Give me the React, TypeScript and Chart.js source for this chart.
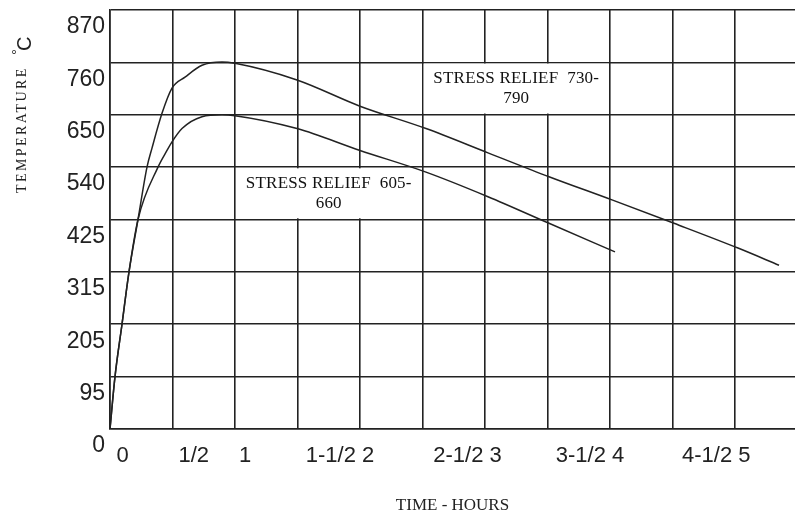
import React, { useEffect, useRef } from 'react';
import { Chart, registerables } from 'chart.js';

Chart.register(...registerables);

// Y tick labels (°C) — evenly spaced on the original grid
const yTickLabels = [0, 95, 205, 315, 425, 540, 650, 760, 870];

// X tick labels (hours) and where they sit on the time axis
const xTickLabels = ['0', '1/2', '1', '1-1/2 2', '2-1/2 3', '3-1/2 4', '4-1/2 5'];
const xTickHours = [0.1, 0.67, 1.08, 1.84, 2.86, 3.84, 4.85];

// Stress relief 730-790 curve
const highHours = [0, 0.04, 0.096, 0.152, 0.224, 0.296, 0.336, 0.416, 0.496, 0.6, 0.736, 0.896, 1.0, 1.496, 2.0, 2.528, 3.024, 3.512, 4.016, 4.512, 5.024, 5.352];
const highTemps = [0, 95, 205, 315, 425, 540, 580, 653, 706, 729, 754, 761, 758, 723, 668, 621, 570, 519, 468, 417, 365, 329];

// Stress relief 605-660 curve
const lowHours = [0, 0.04, 0.096, 0.152, 0.224, 0.384, 0.456, 0.496, 0.576, 0.736, 0.896, 1.0, 1.496, 2.0, 2.528, 3.024, 3.512, 4.04];
const lowTemps = [0, 95, 205, 315, 425, 540, 575, 593, 621, 646, 650, 648, 621, 575, 529, 475, 417, 357];

// Annotation labels
const highNote = ['STRESS RELIEF  730-', '790'];
const highNoteHours = [2.5, 4.0];
const highNoteTemps = [650, 760];
const lowNote = ['STRESS RELIEF  605-', '660'];
const lowNoteHours = [1.0, 2.5];
const lowNoteTemps = [425, 540];

const xMaxHours = 5.48;

function tempToGrid(t: number): number {
  for (let i = 0; i < yTickLabels.length - 1; i++) {
    const a = yTickLabels[i];
    const b = yTickLabels[i + 1];
    if (t <= b || i === yTickLabels.length - 2) {
      return i + (t - a) / (b - a);
    }
  }
  return 0;
}

const INK = '#222';

const notesPlugin = {
  id: 'notes',
  beforeDatasetsDraw(chart: any) {
    const { ctx } = chart;
    const xs = chart.scales.x;
    const ys = chart.scales.y;
    const notes = [
      { lines: highNote, hours: highNoteHours, temps: highNoteTemps },
      { lines: lowNote, hours: lowNoteHours, temps: lowNoteTemps },
    ];
    ctx.save();
    for (const n of notes) {
      const x1 = xs.getPixelForValue(n.hours[0]);
      const x2 = xs.getPixelForValue(n.hours[1]);
      const y1 = ys.getPixelForValue(tempToGrid(n.temps[1]));
      const y2 = ys.getPixelForValue(tempToGrid(n.temps[0]));
      ctx.fillStyle = '#fff';
      ctx.fillRect(x1 + 1.2, y1 + 1.2, x2 - x1 - 2.4, y2 - y1 - 2.4);
      const cx = (x1 + x2) / 2;
      const cy = (y1 + y2) / 2;
      ctx.fillStyle = '#111';
      ctx.font = '17px "Liberation Serif", "DejaVu Serif", serif';
      (ctx as any).letterSpacing = '0.2px';
      ctx.textAlign = 'center';
      ctx.textBaseline = 'middle';
      ctx.fillText(n.lines[0], cx, cy - 10);
      ctx.fillText(n.lines[1], cx, cy + 10);
    }
    ctx.restore();
  },
};

const yTitlePlugin = {
  id: 'ytitle',
  afterDraw(chart: any) {
    const { ctx } = chart;
    ctx.save();
    ctx.fillStyle = INK;
    ctx.textAlign = 'left';
    ctx.textBaseline = 'alphabetic';
    // TEMPERATURE
    ctx.save();
    ctx.translate(26, 193);
    ctx.rotate(-Math.PI / 2);
    ctx.font = '14px "Liberation Serif", "DejaVu Serif", serif';
    (ctx as any).letterSpacing = '2.4px';
    ctx.fillText('TEMPERATURE', 0, 0);
    ctx.restore();
    // degree sign
    ctx.save();
    ctx.translate(22, 55);
    ctx.rotate(-Math.PI / 2);
    ctx.font = '15px "Liberation Sans", Arial, sans-serif';
    ctx.fillText('°', 0, 0);
    ctx.restore();
    // C
    ctx.save();
    ctx.translate(31, 51);
    ctx.rotate(-Math.PI / 2);
    ctx.font = '20px "Liberation Sans", Arial, sans-serif';
    ctx.fillText('C', 0, 0);
    ctx.restore();
    ctx.restore();
  },
};

export default function App() {
  const ref = useRef<HTMLCanvasElement | null>(null);

  useEffect(() => {
    if (!ref.current) return;
    const highData = highHours.map((h, i) => ({ x: h, y: tempToGrid(highTemps[i]) }));
    const lowData = lowHours.map((h, i) => ({ x: h, y: tempToGrid(lowTemps[i]) }));

    const chart = new Chart(ref.current, {
      type: 'line',
      data: {
        datasets: [
          {
            label: 'Stress relief 730-790',
            data: highData,
            borderColor: INK,
            borderWidth: 1.5,
            pointRadius: 0,
            fill: false,
            cubicInterpolationMode: 'monotone',
          },
          {
            label: 'Stress relief 605-660',
            data: lowData,
            borderColor: INK,
            borderWidth: 1.5,
            pointRadius: 0,
            fill: false,
            cubicInterpolationMode: 'monotone',
          },
        ],
      },
      options: {
        animation: false,
        responsive: false,
        maintainAspectRatio: false,
        layout: { padding: { top: 10, left: 0, right: 0, bottom: 0 } },
        plugins: {
          legend: { display: false },
          tooltip: { enabled: false },
        },
        scales: {
          x: {
            type: 'linear',
            position: 'bottom',
            min: 0,
            max: xMaxHours,
            afterBuildTicks: (scale: any) => {
              scale.ticks = scale.ticks.filter((t: any) => Math.abs(t.value * 2 - Math.round(t.value * 2)) < 1e-6);
            },
            ticks: { display: false, stepSize: 0.5 },
            grid: { color: INK, lineWidth: 1.6, drawTicks: false },
            border: { color: INK, width: 1.6 },
            afterFit: (scale: any) => {
              scale.height = 0;
              scale.paddingLeft = 0;
              scale.paddingRight = 0;
            },
          },
          xl: {
            type: 'linear',
            position: 'bottom',
            min: 0,
            max: xMaxHours,
            afterBuildTicks: (scale: any) => {
              scale.ticks = xTickHours.map((v) => ({ value: v }));
            },
            ticks: {
              autoSkip: false,
              maxRotation: 0,
              minRotation: 0,
              padding: 6,
              color: INK,
              font: { family: '"Liberation Sans", Arial, sans-serif', size: 22 },
              callback: (_v: any, i: number) => xTickLabels[i],
            },
            grid: { display: false },
            border: { display: false },
            title: {
              display: true,
              text: 'TIME - HOURS',
              color: INK,
              font: { family: '"Liberation Serif", "DejaVu Serif", serif', size: 17 },
              padding: { top: 0, bottom: 1 },
            },
            afterFit: (scale: any) => {
              scale.height = 88;
              scale.paddingLeft = 0;
              scale.paddingRight = 0;
            },
          },
          y: {
            type: 'linear',
            min: 0,
            max: 8,
            ticks: {
              stepSize: 1,
              padding: 5,
              labelOffset: 17,
              color: INK,
              font: { family: '"Liberation Sans", Arial, sans-serif', size: 23 },
              callback: (v: any) => String(yTickLabels[Math.round(Number(v))]),
            },
            grid: { color: INK, lineWidth: 1.6, drawTicks: false },
            border: { color: INK, width: 1.6 },
            afterFit: (scale: any) => {
              scale.width = 110;
              scale.paddingTop = 0;
              scale.paddingBottom = 0;
            },
          },
        },
      } as any,
      plugins: [notesPlugin, yTitlePlugin],
    });
    return () => chart.destroy();
  }, []);

  return (
    <div style={{ position: 'fixed', left: 0, top: 0, width: 795, height: 517, background: '#fff' }}>
      <canvas ref={ref} width={795} height={517} style={{ width: 795, height: 517 }} />
    </div>
  );
}
